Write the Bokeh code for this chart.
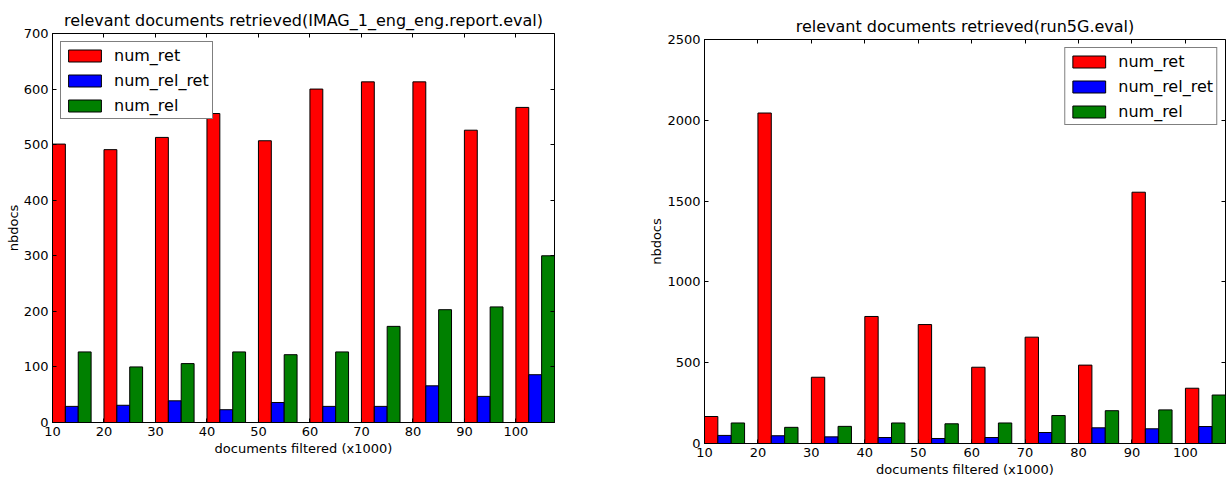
from bokeh.plotting import figure
from bokeh.models import (ColumnDataSource, Range1d, FixedTicker, LinearAxis,
                          CustomJSTickFormatter)
from bokeh.transform import dodge
from bokeh.layouts import row, column
from bokeh.embed import file_html
from bokeh.resources import INLINE

# ---- data ----
docs = [10, 20, 30, 40, 50, 60, 70, 80, 90, 100]
num_rel = [127, 100, 106, 127, 122, 127, 173, 203, 208, 300]
imag_num_ret = [501, 491, 513, 556, 507, 600, 613, 613, 526, 567]
imag_num_rel_ret = [29, 31, 39, 23, 36, 29, 29, 66, 47, 86]
run5g_num_ret = [167, 2045, 410, 786, 736, 472, 658, 485, 1555, 342]
run5g_num_rel_ret = [50, 48, 41, 37, 31, 37, 68, 97, 91, 105]
series_names = ["num_ret", "num_rel_ret", "num_rel"]
series_colors = ["#ff0000", "#0000ff", "#008000"]
bar_w = 2.5

FONT = "DejaVu Sans"


def style_axis(ax, labels=True):
    ax.major_tick_in = 4
    ax.major_tick_out = 0
    ax.minor_tick_line_color = None
    ax.major_tick_line_color = "black"
    ax.axis_line_color = "black"
    ax.major_label_text_font = FONT
    ax.major_label_text_font_size = "13px"
    ax.major_label_text_color = "black"
    ax.axis_label_text_font = FONT
    ax.axis_label_text_font_size = "13px"
    ax.axis_label_text_font_style = "normal"
    ax.axis_label_text_color = "black"
    ax.major_label_standoff = 4
    if not labels:
        ax.formatter = CustomJSTickFormatter(code="return ''")
        ax.major_label_standoff = 0
        ax.axis_line_color = None


def make_fig(title, ret, relret, rel, ymax, ystep, width, height,
             mbl, mbr, mbt, mbb, legend_loc, title_standoff):
    src = ColumnDataSource(dict(x=docs, num_ret=ret, num_rel_ret=relret, num_rel=rel))
    p = figure(width=width, height=height, x_range=Range1d(10, 10 + 9 * 10 + 3 * bar_w),
               y_range=Range1d(0, ymax), output_backend="svg", toolbar_location=None,
               min_border_left=mbl, min_border_right=mbr, min_border_top=mbt,
               min_border_bottom=mbb, title=title)
    for i, (name, col) in enumerate(zip(series_names, series_colors)):
        p.vbar(x=dodge("x", bar_w * (i + 0.5)), top=name, bottom=0, width=bar_w,
               fill_color=col, line_color="black", line_width=1, source=src,
               legend_label=name)
    p.xgrid.visible = False
    p.ygrid.visible = False
    p.outline_line_color = "black"
    p.outline_line_width = 1
    p.background_fill_color = "white"
    p.border_fill_color = "white"

    p.title.text_font = FONT
    p.title.text_font_size = "16px"
    p.title.text_font_style = "normal"
    p.title.text_color = "black"
    p.title.align = "center"
    p.title.standoff = title_standoff

    xt = FixedTicker(ticks=docs)
    yt = FixedTicker(ticks=list(range(0, ymax + 1, ystep)))
    p.xaxis.ticker = xt
    p.yaxis.ticker = yt
    p.xaxis.axis_label = "documents filtered (x1000)"
    p.yaxis.axis_label = "nbdocs"
    for ax in p.xaxis + p.yaxis:
        style_axis(ax)
    p.xaxis.axis_label_standoff = 2
    p.yaxis.axis_label_standoff = 0

    top_ax = LinearAxis(ticker=xt)
    style_axis(top_ax, labels=False)
    p.add_layout(top_ax, "above")
    right_ax = LinearAxis(ticker=yt)
    style_axis(right_ax, labels=False)
    p.add_layout(right_ax, "right")

    lg = p.legend[0]
    lg.location = legend_loc
    lg.margin = 8
    lg.padding = 3
    lg.spacing = 5
    lg.glyph_width = 41
    lg.glyph_height = 15
    lg.label_height = 20
    lg.label_standoff = 9
    lg.label_text_font = FONT
    lg.label_text_font_size = "16px"
    lg.label_text_color = "black"
    lg.border_line_color = "black"
    lg.border_line_width = 1
    lg.background_fill_color = "white"
    lg.background_fill_alpha = 1
    return p


p1 = make_fig("relevant documents retrieved(IMAG_1_eng_eng.report.eval)",
              imag_num_ret, imag_num_rel_ret, num_rel, 700, 100,
              630, 462, 52, 76, 33, 40, "top_left", 8)
p2 = make_fig("relevant documents retrieved(run5G.eval)",
              run5g_num_ret, run5g_num_rel_ret, num_rel, 2500, 500,
              596, 479, 74, 1, 39, 36, "top_right", 7)

layout = row(column(p1), column(p2))
open("out.html", "w").write(file_html(layout, INLINE))
